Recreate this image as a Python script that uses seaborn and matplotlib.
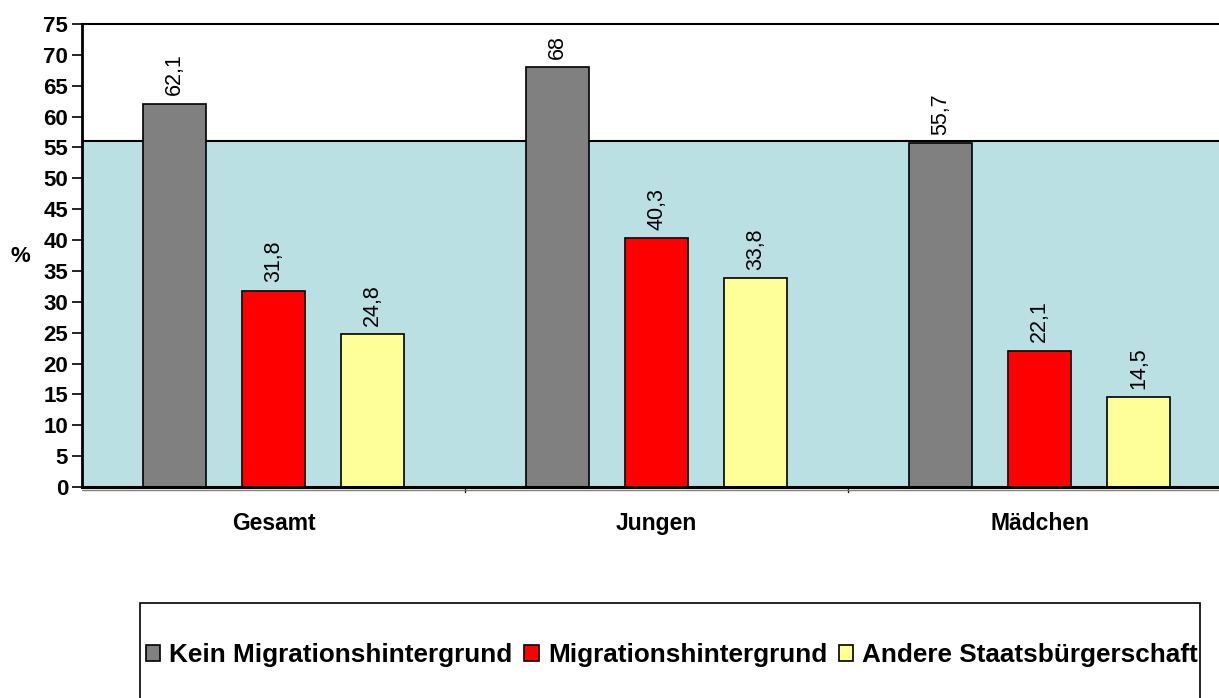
import matplotlib
matplotlib.use("Agg")
import matplotlib.pyplot as plt
import seaborn as sns
import pandas as pd
from matplotlib.patches import Rectangle

categories = ["Gesamt", "Jungen", "Mädchen"]
series_names = ["Kein Migrationshintergrund", "Migrationshintergrund", "Andere Staatsbürgerschaft"]
kein = [62.1, 68.0, 55.7]
migration = [31.8, 40.3, 22.1]
andere = [24.8, 33.8, 14.5]
value_labels = [["62,1", "68", "55,7"], ["31,8", "40,3", "22,1"], ["24,8", "33,8", "14,5"]]
reference_level = 56
yticks = list(range(0, 80, 5))
colors = ["#808080", "#FF0000", "#FFFF99"]

rows = []
for name, vals in zip(series_names, [kein, migration, andere]):
    for c, v in zip(categories, vals):
        rows.append({"Kategorie": c, "Gruppe": name, "Wert": v})
df = pd.DataFrame(rows)

sns.set_style("white")
plt.rcParams['font.family'] = ['Liberation Sans', 'DejaVu Sans']
plt.rcParams['text.color'] = 'black'
plt.rcParams['xtick.color'] = 'black'
plt.rcParams['ytick.color'] = 'black'
plt.rcParams['axes.labelcolor'] = 'black'

fig = plt.figure(figsize=(12.19, 6.98), dpi=100)
ax = fig.add_axes([82/1219, 1-487/698, 1-82/1219, (487-24)/698])

ax.axhspan(0, reference_level, color="#BBE0E3", zorder=0, lw=0)
ax.axhline(reference_level, color="black", lw=1.5, zorder=1)

sns.barplot(data=df, x="Kategorie", y="Wert", hue="Gruppe", order=categories,
            hue_order=series_names, palette=colors, saturation=1, width=0.775, gap=0.37,
            edgecolor="black", linewidth=1.2, ax=ax, legend=True, zorder=2)

for cont, labs in zip(ax.containers, value_labels):
    ax.bar_label(cont, labels=labs, rotation=90, padding=6, fontsize=15.5, color="black")

ax.set_xlim(-0.5, -0.5 + (1219-82)/383)
ax.set_ylim(0, 75)
ax.set_yticks(yticks)
ax.set_yticklabels([str(t) for t in yticks], fontsize=16, fontweight="bold")
ax.set_xticks(range(len(categories)))
ax.set_xticklabels(categories, fontsize=16.5, fontweight="bold")
ax.tick_params(axis="x", length=0, pad=18)
ax.tick_params(axis="y", length=7, width=1.2, direction="out", left=True, pad=3)
for b in [0.5, 1.5]:
    ax.plot([b, b], [0, -0.8], color="black", lw=1, clip_on=False)
ax.axhline(-0.45, color="#808080", lw=1, clip_on=False, zorder=3)

ax.set_xlabel("")
ax.set_ylabel("%", fontsize=16, fontweight="bold", rotation=0, va="center", ha="center")
ax.yaxis.set_label_coords(-0.054, 0.497)

for side in ["left", "top", "bottom"]:
    ax.spines[side].set_visible(True)
    ax.spines[side].set_color("black")
ax.spines["left"].set_linewidth(2)
ax.spines["top"].set_linewidth(1.5)
ax.spines["bottom"].set_linewidth(2.2)
ax.spines["right"].set_visible(False)

handles, labels = ax.get_legend_handles_labels()
ax.get_legend().remove()
fig.add_artist(Rectangle((140/1219, -0.01), (1200-140)/1219, (698-603)/698 + 0.01,
                         transform=fig.transFigure, fill=False, edgecolor="black", lw=1.2))
fig.legend(handles, labels, loc="center", bbox_to_anchor=(672/1219, 1-655/698),
           ncol=3, frameon=False, prop={"weight": "bold", "size": 18.8},
           handlelength=0.55, handleheight=0.55, handletextpad=0.35, columnspacing=0.45)

fig.savefig("out.png", dpi=100)
